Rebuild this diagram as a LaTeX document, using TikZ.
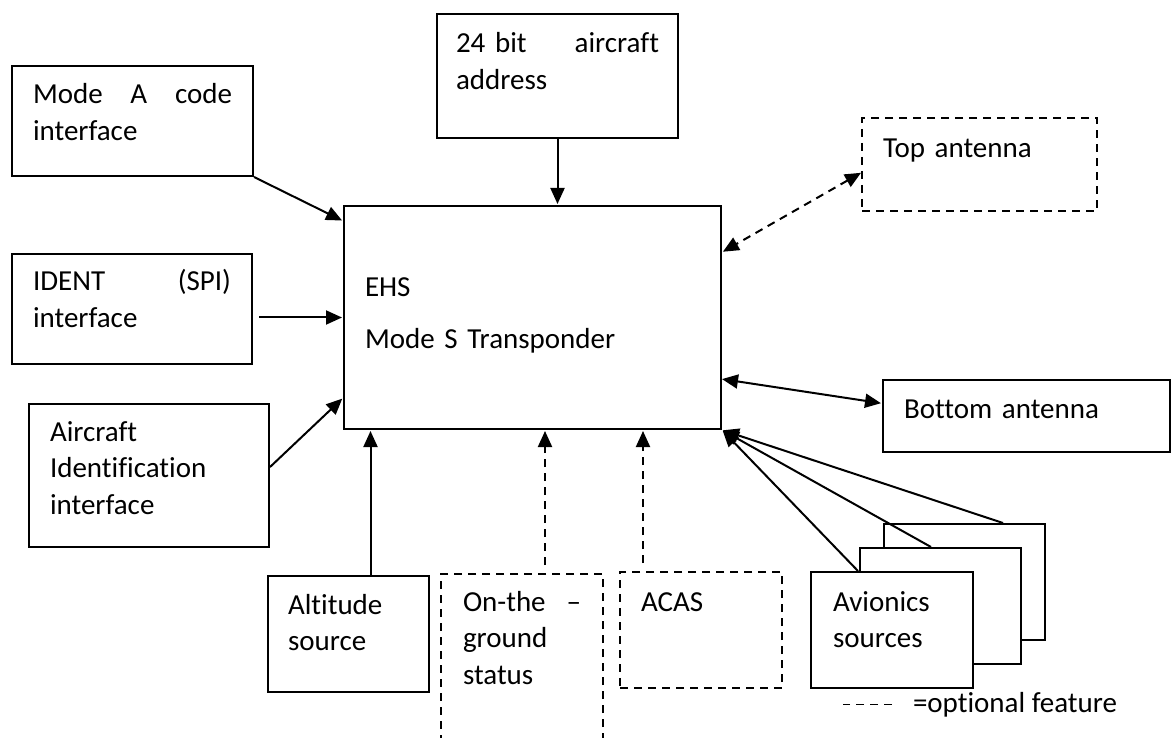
\documentclass[tikz,border=0pt]{standalone}
\usepackage{fontspec}
\setmainfont{Carlito}[Ligatures=NoCommon]
\usetikzlibrary{arrows.meta}

\begin{document}
\begin{tikzpicture}[
            x = 1pt, y = -1pt, % one unit per pixel, y going down
            > = {Triangle[length=16pt, width=14pt]}, % arrow head style
            shorten > = 1pt, % don't touch arrow head to node
            line width = 2pt,
            font = \fontsize{29pt}{36.5pt}\selectfont
        ]

        \tikzstyle{block}=[
            draw = black,
            anchor = north west,
            inner xsep = 21pt,
            inner ysep = 0pt,
            align = left
        ]
        \tikzstyle{optional}=[dash pattern = on 8pt off 6pt]

        \useasboundingbox (0,0) rectangle (1171,738);
        \clip (0,0) rectangle (1171,738);

        \node[block, text width=335pt, text height=91pt, text depth=132pt] (ehs) at (343,205) {EHS\\[15pt]Mode S Transponder};

        \node[block, text width=199pt, text height=38pt, text depth=72pt] (modea) at (11,65) {Mode\hfill A\hfill code\\interface};
        \node[block, text width=198pt, text height=37pt, text depth=73pt] (ident) at (11,253) {IDENT\hfill (SPI)\\interface};
        \node[block, text width=198pt, text height=37pt, text depth=106pt] (acid) at (28,403) {Aircraft\\Identification\\interface};
        \node[block, inner xsep=19pt, text width=203pt, text height=39pt, text depth=85pt] (addr) at (436,13) {24 bit\hfill aircraft\\address};

        \node[block, optional, text width=193pt, text height=40pt, text depth=53pt] (topant) at (861,117) {Top antenna};
        \node[block, text width=245pt, text height=38pt, text depth=34pt] (botant) at (882,379) {Bottom antenna};

        \node[block, inner xsep=20pt, text width=121pt, text height=38pt, text depth=78pt] (alt) at (267,575) {Altitude\\source};
        \node[block, optional, inner xsep=22pt, text width=118pt, text height=37pt, text depth=150pt] (gnd) at (440,573) {On-the\hfill --\\ground\\status};
        \node[block, optional, text width=120pt, text height=39pt, text depth=77pt] (acas) at (619,571) {ACAS};

        \node[block, fill=white, text width=119pt, text height=39pt, text depth=77pt] (avback) at (883,523) {};
        \node[block, fill=white, text width=119pt, text height=39pt, text depth=77pt] (avmid) at (859,547) {};
        \node[block, fill=white, inner xsep=22pt, text width=118pt, text height=39pt, text depth=77pt] (avfront) at (810,571) {Avionics\\sources};

        \node[anchor=base west, inner sep=0pt] (legend) at (912,712) {=optional feature};

        \draw[->] (modea.south east) -- (ehs.153);
        \draw[->] ([xshift=6pt]ident.east |- ehs.west) -- (ehs.west);
        \draw[->] (acid.4) -- (ehs.203);
        \draw[->] (addr.south) -- (addr.south |- ehs.north);
        \draw[<->, optional] (topant.184) -- (ehs.19);
        \draw[<->] (ehs.342) -- (botant.175);

        \draw[->] ([xshift=22pt]alt.north) -- ([xshift=22pt]alt.north |- ehs.south);
        \draw[->, optional] ([xshift=23pt, yshift=8pt]gnd.north) -- ([xshift=23pt]gnd.north |- ehs.south);
        \draw[->, optional] ([xshift=-58pt, yshift=8pt]acas.north) -- ([xshift=-58pt]acas.north |- ehs.south);

        \draw[->] ([xshift=48pt]avfront.north west) -- (ehs.south east);
        \draw[->] ([xshift=72pt]avmid.north west) -- (ehs.south east);
        \draw[->] ([xshift=120pt]avback.north west) -- (ehs.south east);

        \draw[optional, line width=1.5pt] ([xshift=-20pt]legend.west) -- ++(-50,0);
    \end{tikzpicture}
\end{document}
